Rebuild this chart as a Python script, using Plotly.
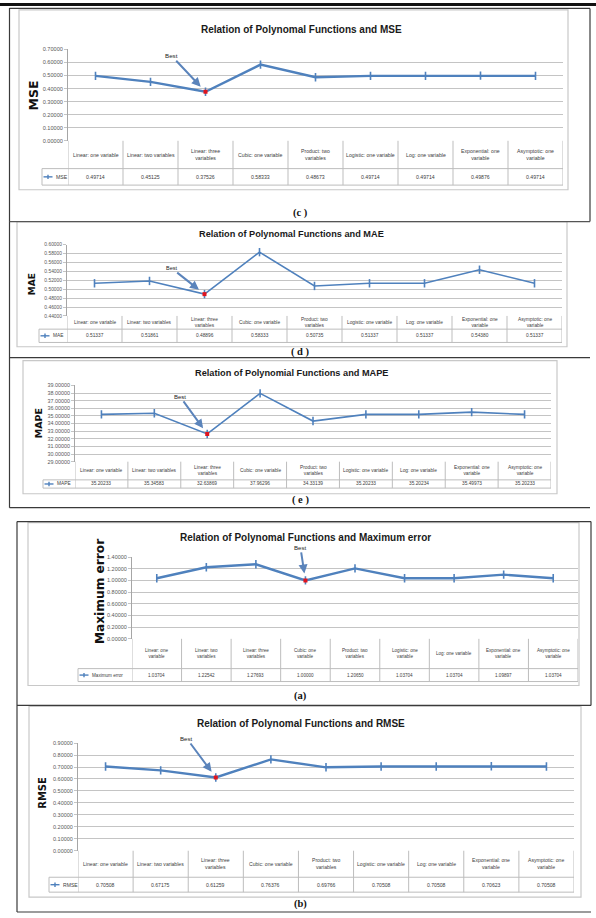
import plotly.graph_objects as go

W, H = 596, 918

CATEGORIES = ["Linear: one variable", "Linear: two variables", "Linear: three variables",
              "Cubic: one variable", "Product: two variables", "Logistic: one variable",
              "Log: one variable", "Exponential: one variable", "Asymptotic: one variable"]
LABELS_WIDE = ["Linear: one variable", "Linear: two variables", "Linear: three<br>variables",
               "Cubic: one variable", "Product: two<br>variables", "Logistic: one variable",
               "Log: one variable", "Exponential: one<br>variable", "Asymptotic: one<br>variable"]
LABELS_NARROW = ["Linear: one<br>variable", "Linear: two<br>variables", "Linear: three<br>variables",
                 "Cubic: one<br>variable", "Product: two<br>variables", "Logistic: one<br>variable",
                 "Log: one variable", "Exponential: one<br>variable", "Asymptotic: one<br>variable"]

MSE = [0.49714, 0.45125, 0.37526, 0.58333, 0.48673, 0.49714, 0.49714, 0.49876, 0.49714]
MAE = [0.51337, 0.51861, 0.48896, 0.58333, 0.50735, 0.51337, 0.51337, 0.54380, 0.51337]
MAPE = [35.20233, 35.34583, 32.63869, 37.96296, 34.33139, 35.20233, 35.20234, 35.49973, 35.20233]
MAX_ERROR = [1.03704, 1.22542, 1.27693, 1.00000, 1.20650, 1.03704, 1.03704, 1.09897, 1.03704]
RMSE = [0.70508, 0.67175, 0.61259, 0.76376, 0.69766, 0.70508, 0.70508, 0.70623, 0.70508]

BEST_MSE, BEST_MAE, BEST_MAPE, BEST_MAX, BEST_RMSE = 2, 2, 2, 3, 2

SANS = "Liberation Sans, Arial, sans-serif"
WIDE = "DejaVu Sans, Verdana, sans-serif"
SERIF = "Liberation Serif, Times New Roman, serif"
BLUE = "#4f81bd"
GRID = "#c4c4c4"
TXT = "#404040"


def px(x):
    return x / W


def py(y):
    return 1 - y / H


panels = [
    dict(name="MSE", title="Relation of Polynomal Functions and MSE", vals=MSE, best=BEST_MSE,
         labels=LABELS_WIDE, yr=(0, 0.7), dt=0.1, x0=68, x1=563, ytop=46.7, ybot=138.7,
         catb=166.7, datb=183.3, legl=42, box=(19, 7, 568, 188), tx=301, ty=27, tsize=10,
         yt=(33, 93, 12.5), lab="(c )", laby=211, tfs=5.6, cfs=5.2, lw=2.4, bx=(-34, -36)),
    dict(name="MAE", title="Relation of Polynomal Functions and MAE", vals=MAE, best=BEST_MAE,
         labels=LABELS_WIDE, yr=(0.44, 0.60), dt=0.02, x0=67, x1=562, ytop=243.3, ybot=315,
         catb=328.3, datb=341.7, legl=39, box=(17, 220, 567, 346), tx=291, ty=233, tsize=9.2,
         yt=(32, 283, 9), lab="( d )", laby=351.5, tfs=4.9, cfs=4.8, lw=1.6, bx=(-33, -26)),
    dict(name="MAPE", title="Relation of Polynomial Functions and MAPE", vals=MAPE, best=BEST_MAPE,
         labels=LABELS_WIDE, yr=(29, 39), dt=1, x0=75, x1=551, ytop=385, ybot=461.7,
         catb=480, datb=488.3, legl=43, box=(23, 360, 557, 494), tx=291, ty=372, tsize=9.2,
         yt=(38, 423, 9.5), lab="( e )", laby=500.5, tfs=5.4, cfs=4.8, lw=1.6, bx=(-27, -37)),
    dict(name="Maximum error", title="Relation of Polynomal Functions and Maximum error", vals=MAX_ERROR,
         best=BEST_MAX, labels=LABELS_NARROW, yr=(0, 1.4), dt=0.2, x0=132, x1=578, ytop=557.7,
         ybot=640, catb=670, datb=683, legl=78, box=(28, 523, 579, 687), tx=305, ty=538, tsize=10,
         yt=(100, 593, 12.2), lab="(a)", laby=697.5, tfs=5.5, cfs=4.6, lw=2.4, bx=(-5, -33)),
    dict(name="RMSE", title="Relation of Polynomal Functions and RMSE", vals=RMSE, best=BEST_RMSE,
         labels=LABELS_WIDE, yr=(0, 0.9), dt=0.1, x0=78, x1=574, ytop=745, ybot=853.3,
         catb=880, datb=895, legl=49, box=(29, 708, 581, 900), tx=301, ty=725, tsize=10,
         yt=(43, 795, 10), lab="(b)", laby=907, tfs=5.5, cfs=5.1, lw=2.4, bx=(-29, -39)),
]

fig = go.Figure()
shapes = []
annotations = []
layout_axes = {}


def line(x0, y0, x1, y1, color, width=1, xref="paper", yref="paper"):
    shapes.append(dict(type="line", xref=xref, yref=yref, x0=x0, y0=y0, x1=x1, y1=y1,
                       line=dict(color=color, width=width), layer="above"))


# page frame lines
shapes.append(dict(type="rect", xref="paper", yref="paper", x0=0, x1=1, y0=py(0), y1=py(3),
                   fillcolor="#111111", line=dict(width=0)))
FR = "#3a3a3a"
line(px(9.5), py(5), px(9.5), py(508), FR, 1.2)
line(px(9.5), py(5.5), px(590), py(5.5), FR, 1.2)
line(px(590), py(5.5), px(590), py(220), FR, 1.2)
line(px(9.5), py(220), px(590), py(220), "#555555", 1.2)
line(px(9.5), py(357), px(590), py(357), FR, 1.2)
line(px(9.5), py(508), px(590), py(508), FR, 1.2)
line(px(17), py(522), px(17), py(915), FR, 1.2)
line(px(17), py(522), px(591), py(522), FR, 1.2)
line(px(591), py(522), px(591), py(707), FR, 1.2)
line(px(17), py(707), px(591), py(707), FR, 1.2)
line(px(17), py(915), px(591), py(915), FR, 1.2)

for i, p in enumerate(panels, start=1):
    xa = "x" if i == 1 else f"x{i}"
    ya = "y" if i == 1 else f"y{i}"
    xk = "xaxis" if i == 1 else f"xaxis{i}"
    yk = "yaxis" if i == 1 else f"yaxis{i}"
    layout_axes[xk] = dict(domain=[px(p["x0"]), px(p["x1"])], range=[-0.5, 8.5], type="category",
                           showticklabels=False, showgrid=False, zeroline=False, anchor=ya,
                           fixedrange=True)
    layout_axes[yk] = dict(domain=[py(p["ybot"]), py(p["ytop"])], range=list(p["yr"]), dtick=p["dt"],
                           tick0=p["yr"][0], tickformat=".5f", showgrid=True, gridcolor=GRID,
                           gridwidth=1, zeroline=False, showline=True, linecolor="#a6a6a6",
                           linewidth=1, ticks="outside", ticklen=3, tickcolor=GRID,
                           tickfont=dict(family=SANS, size=p["tfs"], color="#595959"),
                           anchor=xa, fixedrange=True)

    # chart box
    bx0, by0, bx1, by1 = p["box"]
    shapes.append(dict(type="rect", xref="paper", yref="paper", x0=px(bx0), x1=px(bx1),
                       y0=py(by1), y1=py(by0), line=dict(color="#c8c8c8", width=1.2),
                       fillcolor="rgba(0,0,0,0)", layer="below"))

    # series
    fig.add_trace(go.Scatter(x=CATEGORIES, y=p["vals"], mode="lines+markers", name=p["name"],
                             xaxis=xa, yaxis=ya, showlegend=False,
                             line=dict(color=BLUE, width=p["lw"]),
                             marker=dict(symbol="line-ns", size=6,
                                         line=dict(color=BLUE, width=1.6))))
    b = p["best"]
    fig.add_trace(go.Scatter(x=[CATEGORIES[b]], y=[p["vals"][b]], mode="markers", xaxis=xa, yaxis=ya,
                             showlegend=False,
                             marker=dict(symbol="square", size=4, color="#e0141e")))

    # "Best" annotation
    annotations.append(dict(xref=xa, yref=ya, x=b, y=p["vals"][b], text="Best", showarrow=True,
                            ax=p["bx"][0], ay=p["bx"][1], arrowhead=2, arrowsize=0.9,
                            arrowwidth=2, arrowcolor="#5b84bb", standoff=7,
                            font=dict(family=SANS, size=p["tfs"] + 0.6, color="#222222")))

    # table grid
    tcol = "#bdbdbd"
    line(px(p["legl"]), py(p["catb"]), px(p["x1"]), py(p["catb"]), tcol)
    line(px(p["legl"]), py(p["datb"]), px(p["x1"]), py(p["datb"]), tcol)
    line(px(p["legl"]), py(p["catb"]), px(p["legl"]), py(p["datb"]), tcol)
    for k in range(len(CATEGORIES) + 1):
        shapes.append(dict(type="line", xref=xa, yref="paper", x0=k - 0.5, x1=k - 0.5,
                           y0=py(p["ybot"]), y1=py(p["datb"]), line=dict(color=tcol, width=1)))
    # table text
    cat_mid = (p["ybot"] + p["catb"]) / 2
    dat_mid = (p["catb"] + p["datb"]) / 2
    for k, (lab, v) in enumerate(zip(p["labels"], p["vals"])):
        annotations.append(dict(xref=xa, yref="paper", x=k, y=py(cat_mid), text=lab, showarrow=False,
                                font=dict(family=SANS, size=p["cfs"], color=TXT), yanchor="middle"))
        annotations.append(dict(xref=xa, yref="paper", x=k, y=py(dat_mid), text=f"{v:.5f}",
                                showarrow=False, font=dict(family=SANS, size=p["cfs"], color=TXT),
                                yanchor="middle"))
    # legend key in table
    lx = p["legl"]
    line(px(lx + 1.5), py(dat_mid), px(lx + 10.5), py(dat_mid), BLUE, 1.4)
    line(px(lx + 6), py(dat_mid - 2.2), px(lx + 6), py(dat_mid + 2.2), BLUE, 1.4)
    annotations.append(dict(xref="paper", yref="paper", x=px(lx + 11.5), y=py(dat_mid), text=p["name"],
                            showarrow=False, xanchor="left", yanchor="middle",
                            font=dict(family=SANS, size=p["cfs"], color=TXT)))

    # title
    annotations.append(dict(xref="paper", yref="paper", x=px(p["tx"]), y=py(p["ty"]),
                            text=f"<b>{p['title']}</b>", showarrow=False, yanchor="middle",
                            font=dict(family=SANS, size=p["tsize"], color="#1a1a1a")))
    # y axis title
    tx, tyy, tsz = p["yt"]
    annotations.append(dict(xref="paper", yref="paper", x=px(tx), y=py(tyy), text=f"<b>{p['name']}</b>",
                            showarrow=False, textangle=-90, xanchor="center", yanchor="middle",
                            font=dict(family=WIDE, size=tsz, color="#111111")))
    # panel label
    annotations.append(dict(xref="paper", yref="paper", x=px(300), y=py(p["laby"]),
                            text=f"<b>{p['lab']}</b>", showarrow=False, yanchor="middle",
                            font=dict(family=SERIF, size=10.5, color="#111111")))

fig.update_layout(width=W, height=H, margin=dict(l=0, r=0, t=0, b=0), paper_bgcolor="white",
                  plot_bgcolor="white", shapes=shapes, annotations=annotations, showlegend=False,
                  **layout_axes)

fig.write_html("out.html", config={"displayModeBar": False},
               post_script="document.body.style.margin='0';document.body.style.overflow='hidden';")
